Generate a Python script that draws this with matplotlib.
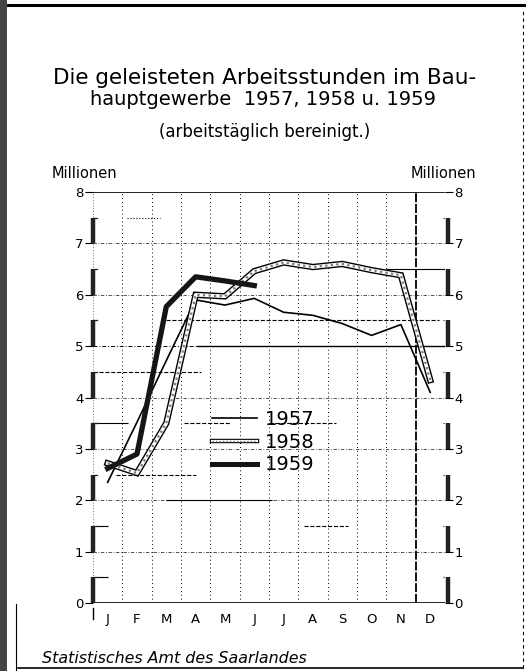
import numpy as np
import matplotlib.pyplot as plt
from matplotlib.lines import Line2D

# Daten (Millionen Arbeitsstunden)
monate = ['J', 'F', 'M', 'A', 'M', 'J', 'J', 'A', 'S', 'O', 'N', 'D']
werte_1957 = [2.35, 3.52, 4.72, 5.90, 5.80, 5.93, 5.66, 5.60, 5.44, 5.21, 5.42, 4.10]
werte_1958 = [2.72, 2.53, 3.50, 6.00, 5.97, 6.46, 6.63, 6.54, 6.60, 6.48, 6.38, 4.34]
werte_1959 = [2.62, 2.90, 5.77, 6.35, 6.27, 6.18]
jahre = ['1957', '1958', '1959']
y_ticks = [0, 1, 2, 3, 4, 5, 6, 7, 8]

plt.rcParams['font.family'] = ['DejaVu Sans']

fig = plt.figure(figsize=(5.26, 6.71), dpi=100)
ax = fig.add_axes([0.1768, 0.1013, 0.669, 0.6125])
ax.set_xlim(-0.5, 11.5)
ax.set_ylim(0, 8)
for s in ax.spines.values():
    s.set_visible(False)

x = np.arange(len(monate))

# Gitter
for k in range(11):
    xb = k + 0.5
    if k == 10:
        ax.axvline(xb, color='black', lw=1.3, ls=(0, (5, 1)), zorder=1)
    else:
        ax.axvline(xb, color='black', lw=0.7, ls=(0, (1, 3)), zorder=1)
for v in [1, 2, 3, 4, 6, 7]:
    ax.axhline(v, color='black', lw=0.6, ls=(0, (4, 2, 1, 2)), alpha=0.8, zorder=1)
ax.hlines(5, -0.5, 3.0, color='black', lw=0.7, ls=(0, (4, 2, 1, 2)), zorder=1)
ax.hlines(5, 3.0, 11.5, color='black', lw=1.0, zorder=1)
# halbe Linien (Teilstücke)
halbe = [(7.5, 0.65, 1.8, ':'), (6.5, 9.5, 11.5, '-'), (5.5, 2.0, 11.3, '--'),
         (4.5, -0.3, 3.2, '--'), (3.5, -0.5, 0.7, '-'), (3.5, 2.6, 4.2, '--'),
         (3.5, 5.5, 7.8, '--'), (2.5, 0.3, 3.0, '--'), (2.0, 2.0, 5.6, '-'),
         (1.5, -0.4, 0.0, '-'), (1.5, 6.7, 8.2, '--'), (0.5, -0.4, 0.0, '-')]
for yv, x0, x1, st in halbe:
    ax.hlines(yv, x0, x1, color='black', lw=0.8, ls=st, zorder=1)
ax.axhline(8, color='black', lw=1.2, zorder=2)
ax.axhline(0, color='black', lw=1.2, zorder=2)
ax.axvline(-0.5, color='black', lw=0.5, ls=(0, (1, 3)), zorder=1)
ax.plot([-0.5, -0.5], [-0.1, -0.32], color='black', lw=1.0, clip_on=False)

# Balken an den Achsen
for v in range(8):
    ax.plot([-0.5, -0.5], [v, v + 0.5], color='#222222', lw=3.2, solid_capstyle='butt', zorder=3, clip_on=False)
    ax.plot([-0.5, -0.35], [v + 0.5, v + 0.5], color='#222222', lw=0.9, zorder=3, clip_on=False)
    ax.plot([11.62, 11.62], [v, v + 0.5], color='#222222', lw=3.2, solid_capstyle='butt', zorder=3, clip_on=False)
    ax.plot([11.45, 11.62], [v + 0.5, v + 0.5], color='#222222', lw=0.8, ls=':', zorder=3, clip_on=False)

# Kurven
ax.plot(x, werte_1957, color='black', lw=1.2, zorder=4)
ax.plot(x, werte_1958, color='black', lw=4.6, solid_joinstyle='miter', zorder=5)
ax.plot(x, werte_1958, color='white', lw=2.6, zorder=5)
ax.plot(x, werte_1958, color='#777777', lw=1.6, ls=(0, (1, 1.5)), zorder=5)
ax.plot(x[:len(werte_1959)], werte_1959, color='#151515', lw=3.8, zorder=6)

h57 = Line2D([], [], color='black', lw=1.2)
h58 = (Line2D([], [], color='black', lw=3.2), Line2D([], [], color='white', lw=1.6),
       Line2D([], [], color='#777777', lw=1.0, ls=(0, (1, 1.5))))
h59 = Line2D([], [], color='#151515', lw=3.6)
ax.legend([h57, h58, h59], jahre, loc='upper left', bbox_to_anchor=(0.31, 0.494),
          frameon=False, fontsize=14, handlelength=2.3, handletextpad=0.45,
          labelspacing=0.2, borderpad=0)

# Achsenbeschriftung
ax.set_xticks(x)
ax.set_xticklabels(monate, fontsize=9.5)
ax.tick_params(axis='x', length=0, pad=7)
ax.set_yticks(y_ticks)
ax.tick_params(axis='y', which='both', left=True, right=True, labelleft=True, labelright=True,
               length=6, width=0.8, pad=1, labelsize=9.5, direction='out')

# Texte
fig.text(0.503, 0.884, 'Die geleisteten Arbeitsstunden im Bau-', ha='center', va='center', fontsize=15.5)
fig.text(0.5, 0.851, 'hauptgewerbe  1957, 1958 u. 1959', ha='center', va='center', fontsize=14)
fig.text(0.503, 0.803, '(arbeitstäglich bereinigt.)', ha='center', va='center', fontsize=12)
fig.text(0.099, 0.741, 'Millionen', ha='left', va='center', fontsize=10.5)
fig.text(0.905, 0.741, 'Millionen', ha='right', va='center', fontsize=10.5)
fig.text(0.08, 0.019, 'Statistisches Amt des Saarlandes', ha='left', va='center',
         fontsize=11.4, style='italic')

# Rahmen
fig.add_artist(Line2D([0, 1], [0.993, 0.993], color='black', lw=2.2, transform=fig.transFigure))
fig.add_artist(Line2D([0.006, 0.006], [0, 1], color='#444444', lw=5, transform=fig.transFigure))
fig.add_artist(Line2D([0.03, 0.03], [0.0, 0.1], color='black', lw=0.8, transform=fig.transFigure))
fig.add_artist(Line2D([0.034, 0.994], [0.004, 0.004], color='black', lw=1.2, transform=fig.transFigure))
fig.add_artist(Line2D([0.994, 0.994], [0.004, 0.985], color='black', lw=0.8, ls=(0, (3, 3)),
                      transform=fig.transFigure))

fig.savefig('out.png', dpi=100)
